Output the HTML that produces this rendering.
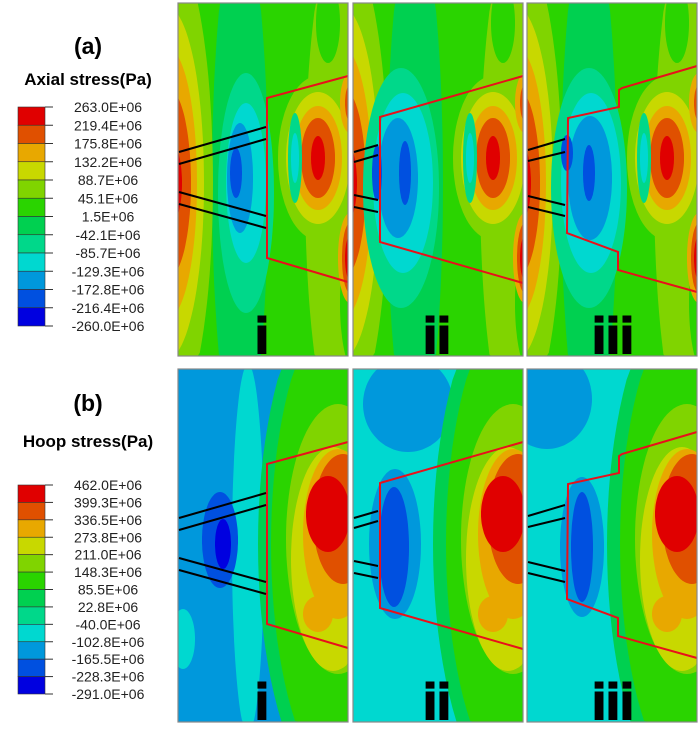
<!DOCTYPE html>
<html><head><meta charset="utf-8"><style>
html,body{margin:0;padding:0;background:#fff;overflow:hidden;width:700px;height:730px}
svg{display:block;overflow:hidden}
text{font-family:"Liberation Sans",sans-serif}
</style></head><body>
<svg id="fig" width="700" height="730" viewBox="0 0 700 730" xmlns="http://www.w3.org/2000/svg">
<defs id="defs"></defs>
<g id="legends"></g>
<g id="panels"></g>
</svg>
<script>
const NS='http://www.w3.org/2000/svg';
const C=['#0000e0','#0050e0','#0098dc','#00d8d0','#00d88a','#00d050','#2ad400','#80d400','#c8d800','#e8a800','#e05000','#e00000'];
const axialLabels=['263.0E+06','219.4E+06','175.8E+06','132.2E+06','88.7E+06','45.1E+06','1.5E+06','-42.1E+06','-85.7E+06','-129.3E+06','-172.8E+06','-216.4E+06','-260.0E+06'];
const hoopLabels=['462.0E+06','399.3E+06','336.5E+06','273.8E+06','211.0E+06','148.3E+06','85.5E+06','22.8E+06','-40.0E+06','-102.8E+06','-165.5E+06','-228.3E+06','-291.0E+06'];
function mk(tag,attrs,parent){const e=document.createElementNS(NS,tag);for(const k in attrs)e.setAttribute(k,attrs[k]);parent.appendChild(e);return e;}
const L=document.getElementById('legends');
function legend(letter,title,labels,yLetter,yTitle,top,bot,name){
  const g=mk('g',{},L);
  
  
  const t1=mk('text',{x:88,y:yLetter+8,'text-anchor':'middle','font-size':23,'font-weight':'bold'},g);t1.textContent=letter;
  
  
  const t2=mk('text',{x:88,y:yTitle+6,'text-anchor':'middle','font-size':17,'font-weight':'bold'},g);t2.textContent=title;
  
  
  const n=labels.length-1,h=(bot-top)/n;
  for(let i=0;i<n;i++){
    const r=mk('rect',{x:18,y:top+i*h,width:27,height:h,fill:C[11-i],stroke:'#333','stroke-width':0.6},g);
    
    
  }
  for(let i=0;i<=n;i++){
    const y=top+i*h;
    mk('line',{x1:45,x2:53,y1:y,y2:y,stroke:'#333','stroke-width':1},g);
    const t=mk('text',{x:108,y:y+5,'text-anchor':'middle','font-size':14,fill:'#222'},g);t.textContent=labels[i];
    
    
  }
}
legend('(a)','Axial stress(Pa)',axialLabels,46,79,107,326,'axial-legend');
legend('(b)','Hoop stress(Pa)',hoopLabels,403,441,485,694,'hoop-legend');

const P=document.getElementById('panels');
const xs=[178,353,527], W=170, H=353;
const axialBase=[[62,180,28,260,5],[165,180,38,260,7],[150,20,12,40,6],[178,300,16,70,6],
 [-10,180,45,240,7],[-10,180,36,175,8],[-10,180,29,135,9],[-10,180,23,95,10],[-10,180,14,45,11],
 [140,155,40,82,7],[140,155,32,66,8],[140,155,24,52,9],[140,155,17,40,10],[140,155,7,22,11],
 [117,155,7,45,4],[117,155,4,25,3],
 [172,100,10,30,9],[172,100,5,18,10],[172,255,12,45,9],[172,255,8,35,10],[172,255,5,22,11]];
const axialMid=[
 [[68,190,28,120,4],[68,180,20,80,3],[62,175,13,55,2],[58,170,6,25,1]],
 [[48,185,38,120,4],[50,180,30,90,3],[45,175,20,60,2],[52,170,6,32,1],[24,170,5,28,1]],
 [[62,185,38,120,4],[64,180,30,90,3],[63,175,22,62,2],[62,170,6,28,1],[40,150,6,18,1]]
];
const hoopBg=[2,3,3];
const hoopMid=[
 [[70,180,16,185,3],[5,270,12,30,3],[150,20,20,30,3],[42,171,18,48,1],[45,175,8,25,0]],
 [[55,35,45,48,2],[42,175,26,75,2],[41,178,15,60,1]],
 [[20,30,45,50,2],[55,178,22,70,2],[55,178,11,55,1]]
];
const hoopBase=[[175,175,95,270,5],[175,175,82,250,6],[160,170,52,135,7],[155,190,42,112,8],
 [160,165,35,85,9],[140,245,15,18,9],[165,150,30,65,10],[150,145,22,38,11]];
const redTop=[
 [[170,73],[89,95],[89,255],[170,279]],
 [[170,73],[27,114],[27,239],[170,280]],
 [[170,63],[95,85],[92,87],[92,104],[41,115],[40,230],[91,249],[91,267],[170,289]]
];
const blackTop=[
 [[0,149,88,124],[0,161,88,136],[0,189,88,213],[0,201,88,225]],
 [[0,149,25,142],[0,159,25,152],[0,192,25,197],[0,204,25,209]],
 [[0,147,38,136],[0,158,38,149],[0,193,38,202],[0,204,38,213]]
];
const roman=['i','ii','iii'];
function clampedEllipse(cx,cy,rx,ry){
  const pts=[];
  for(let k=0;k<96;k++){
    const a=k/96*Math.PI*2;
    const x=Math.min(W,Math.max(0,cx+rx*Math.cos(a)));
    const y=Math.min(H,Math.max(0,cy+ry*Math.sin(a)));
    pts.push(x.toFixed(1)+','+y.toFixed(1));
  }
  return pts.join(' ');
}
function panel(row,j){
  const ox=xs[j], oy=row===0?3:369;
  const g=mk('g',{transform:`translate(${ox},${oy})`},P);
  
  
  const f=mk('g',{},g);
  mk('rect',{x:0,y:0,width:W,height:H,fill:row===0?C[6]:C[hoopBg[j]]},f);
  const layers=row===0?axialBase.concat(axialMid[j]):hoopMid[j].slice(0,j===0?3:1).concat(hoopBase,hoopMid[j].slice(j===0?3:1));
  layers.forEach(l=>{
    const e=mk('polygon',{points:clampedEllipse(l[0],l[1],l[2],l[3]),fill:C[l[4]]},f);
    
    
  });
  const pts=redTop[j].map(p=>p.join(',')).join(' ');
  const red=mk('polyline',{points:pts,fill:'none',stroke:'#e8101a','stroke-width':2},f);
  
  
  blackTop[j].forEach(b=>{
    const ln=mk('line',{x1:b[0]+1,y1:b[1],x2:b[2],y2:b[3],stroke:'#000','stroke-width':2},f);
    
    
  });
  mk('rect',{x:0,y:0,width:W,height:H,fill:'none',stroke:'#888','stroke-width':1.2},g);
  const t=mk('text',{x:[84,84,86][j],y:H-3,'text-anchor':'middle','font-size':50,'font-weight':'bold','stroke':'#000','stroke-width':2},g);
  t.textContent=roman[j];
  
  
}
for(let r=0;r<2;r++)for(let j=0;j<3;j++)panel(r,j);
</script>
</body></html>
